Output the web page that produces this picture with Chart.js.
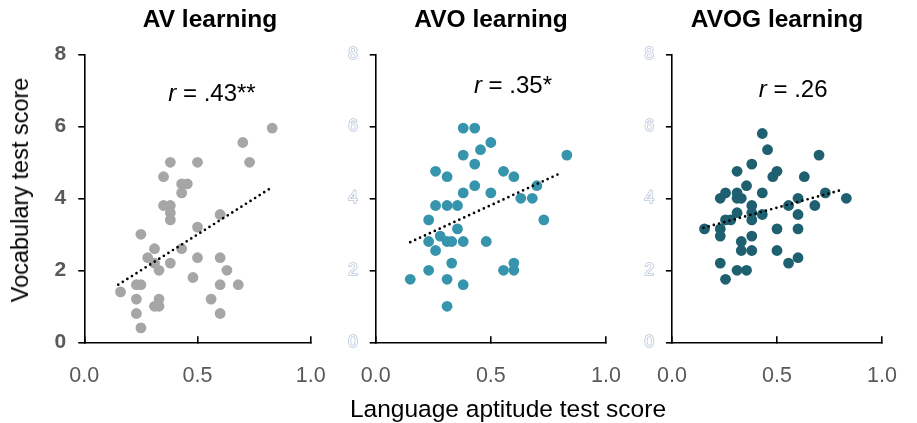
<!DOCTYPE html>
<html>
<head>
<meta charset="utf-8">
<script src="https://cdn.jsdelivr.net/npm/chart.js@4.4.1/dist/chart.umd.min.js"></script>
<style>
  html, body { margin: 0; padding: 0; background: #fff; overflow: hidden; }
  body { width: 917px; height: 423px; position: relative; font-family: 'Liberation Sans', Arial, sans-serif; }
  canvas { position: absolute; top: 0; }
  .lbl { position: absolute; line-height: 24px; color: #000; white-space: nowrap; }
  #xlabel { font-size: 24.5px; left: 508px; top: 397px; transform: translateX(-50%); }
  #ylabel { font-size: 23.5px; left: 20px; top: 190px; transform: translate(-50%, -50%) rotate(-90deg); }
</style>
</head>
<body>
<canvas id="c1" width="420" height="423" style="left:0px"></canvas>
<canvas id="c2" width="322" height="423" style="left:330px"></canvas>
<canvas id="c3" width="294" height="423" style="left:630px"></canvas>
<div class="lbl" id="xlabel">Language aptitude test score</div>
<div class="lbl" id="ylabel">Vocabulary test score</div>

<script>
// datos
const panelTitles = ['AV learning', 'AVO learning', 'AVOG learning'];
const rValues = ['.43**', '.35*', '.26'];
const xTicks = [0, 0.5, 1.0];
const yTicks = [0, 2, 4, 6, 8];

const avX = [0.16, 0.23, 0.25, 0.23, 0.23, 0.25, 0.25, 0.28, 0.31, 0.31, 0.33, 0.31, 0.33, 0.33, 0.35, 0.38, 0.35, 0.38, 0.38, 0.38,
             0.38, 0.43, 0.43, 0.455, 0.43, 0.48, 0.5, 0.5, 0.5, 0.56, 0.6, 0.6, 0.63, 0.6, 0.6, 0.68, 0.7, 0.73, 0.83];
const avY = [1.4, 1.6, 1.6, 1.2, 0.8, 0.4, 3.0, 2.35, 2.6, 2.2, 2.0, 1.0, 1.0, 1.2, 4.6, 5.0, 3.8, 3.8, 3.6, 3.4,
             2.2, 2.6, 4.4, 4.4, 4.15, 1.8, 5.0, 3.2, 2.35, 1.2, 3.55, 2.35, 2.0, 1.6, 0.8, 1.6, 5.55, 5.0, 5.95];
const avTrendX = [0.15, 0.82];
const avTrendY = [1.6, 4.27];

const avoX = [0.15, 0.23, 0.23, 0.23, 0.26, 0.26, 0.26, 0.28, 0.31, 0.31, 0.31, 0.33, 0.31, 0.31, 0.33, 0.355, 0.355, 0.38, 0.38, 0.38,
              0.38, 0.38, 0.43, 0.43, 0.43, 0.455, 0.48, 0.5, 0.5, 0.555, 0.555, 0.6, 0.6, 0.6, 0.63, 0.68, 0.7, 0.73, 0.83];
const avoY = [1.75, 2.0, 3.4, 2.8, 2.55, 4.75, 3.8, 2.95, 4.6, 3.8, 2.8, 2.8, 1.75, 1.0, 2.2, 3.8, 3.15, 5.95, 5.2, 4.15,
              2.8, 1.6, 5.95, 4.95, 4.35, 5.35, 2.8, 5.55, 4.15, 4.75, 2.0, 4.6, 2.2, 2.0, 4.0, 4.0, 4.35, 3.4, 5.2];
const avoTrendX = [0.15, 0.81];
const avoTrendY = [2.78, 4.72];

const avogX = [0.155, 0.23, 0.23, 0.23, 0.23, 0.255, 0.255, 0.255, 0.28, 0.31, 0.31, 0.31, 0.31, 0.31, 0.33, 0.33, 0.33, 0.355, 0.355,
               0.38, 0.38, 0.38, 0.38, 0.38, 0.38, 0.43, 0.43, 0.43, 0.455, 0.48, 0.5, 0.5, 0.5, 0.555, 0.555, 0.6, 0.6, 0.6, 0.6,
               0.63, 0.68, 0.7, 0.73, 0.83];
const avogY = [3.15, 4.0, 3.15, 2.95, 2.2, 4.15, 3.4, 1.75, 3.4, 4.75, 4.15, 4.0, 3.6, 2.0, 4.0, 2.8, 2.55, 4.35, 2.0,
               4.95, 3.8, 3.6, 3.4, 2.95, 2.55, 5.8, 4.15, 3.55, 5.35, 4.6, 4.75, 3.15, 2.55, 3.8, 2.2, 4.0, 3.55, 3.15, 2.35,
               4.6, 3.8, 5.2, 4.15, 4.0];
const avogTrendX = [0.15, 0.80];
const avogTrendY = [3.18, 4.22];

const FAM = "'Liberation Sans', Arial, sans-serif";
Chart.defaults.font.family = FAM;

function toPoints(xs, ys) {
    return xs.map((x, i) => ({ x: x, y: ys[i] }));
}

// plugin para el título del panel y el texto "r = ..."
const panelTextPlugin = {
    id: 'panelText',
    afterDatasetsDraw(chart, args, opts) {
        const ctx = chart.ctx;
        ctx.save();
        ctx.fillStyle = '#000';
        ctx.textBaseline = 'middle';

        // título
        ctx.font = 'bold 24.5px ' + FAM;
        ctx.textAlign = 'center';
        ctx.fillText(opts.title, opts.titleX, 20.5);

        // r = ...
        ctx.textAlign = 'left';
        const cx = chart.scales.x.getPixelForValue(opts.at[0]);
        const cy = chart.scales.y.getPixelForValue(opts.at[1]);
        ctx.font = 'italic 24px ' + FAM;
        const w1 = ctx.measureText('r').width;
        ctx.font = '24px ' + FAM;
        const rest = ' = ' + opts.text;
        const w2 = ctx.measureText(rest).width;
        const x = cx - (w1 + w2) / 2;
        ctx.font = 'italic 24px ' + FAM;
        ctx.fillText('r', x, cy);
        ctx.font = '24px ' + FAM;
        ctx.fillText(rest, x + w1, cy);
        ctx.restore();
    }
};

function makePanel(id, cfg) {
    const hollow = cfg.hollowTicks;
    return new Chart(document.getElementById(id), {
        type: 'scatter',
        data: {
            datasets: [
                {
                    type: 'line',
                    data: toPoints(cfg.trendX, cfg.trendY),
                    borderColor: '#000',
                    borderWidth: 2.7,
                    borderDash: [0, 5.4],
                    borderCapStyle: 'round',
                    pointRadius: 0,
                    fill: false
                },
                {
                    data: toPoints(cfg.xs, cfg.ys),
                    backgroundColor: cfg.color,
                    borderWidth: 0,
                    pointRadius: 5.4,
                    pointHoverRadius: 5.4
                }
            ]
        },
        options: {
            responsive: false,
            animation: false,
            events: [],
            layout: { padding: { left: 0, right: cfg.padRight, top: 54.3, bottom: 0 } },
            plugins: {
                legend: { display: false },
                tooltip: { enabled: false },
                title: { display: false },
                panelText: { title: cfg.title, titleX: cfg.titleX, text: cfg.r, at: cfg.rAt }
            },
            scales: {
                x: {
                    type: 'linear',
                    min: 0, max: 1,
                    afterBuildTicks: s => { s.ticks = xTicks.map(v => ({ value: v })); },
                    afterFit: s => { s.height = 423 - 342.3; },
                    border: { display: true, color: '#000', width: 1.6 },
                    grid: { drawOnChartArea: false, drawTicks: true, tickLength: -6, color: '#000', lineWidth: 1.6 },
                    ticks: {
                        color: '#595959',
                        font: { size: 21.5 },
                        padding: 27,
                        callback: v => v.toFixed(1)
                    }
                },
                y: {
                    type: 'linear',
                    min: 0, max: 8,
                    afterBuildTicks: s => { s.ticks = yTicks.map(v => ({ value: v })); },
                    afterFit: s => { s.width = cfg.yWidth; },
                    border: { display: true, color: '#000', width: 1.6 },
                    grid: { drawOnChartArea: false, drawTicks: true, tickLength: 6, color: '#000', lineWidth: 1.6 },
                    ticks: hollow ? {
                        color: '#ffffff',
                        textStrokeColor: '#b4c4da',
                        textStrokeWidth: 1.5,
                        font: { size: 17 },
                        padding: 12
                    } : {
                        color: '#595959',
                        font: { size: 21, weight: 'bold' },
                        padding: 12
                    }
                }
            }
        },
        plugins: [panelTextPlugin]
    });
}

makePanel('c1', {
    title: panelTitles[0], titleX: 210, r: rValues[0], rAt: [0.564, 6.9],
    xs: avX, ys: avY, trendX: avTrendX, trendY: avTrendY,
    color: '#a6a6a6', yWidth: 84.3, padRight: 420 - 310.7, hollowTicks: false
});
makePanel('c2', {
    title: panelTitles[1], titleX: 491 - 330, r: rValues[1], rAt: [0.596, 7.12],
    xs: avoX, ys: avoY, trendX: avoTrendX, trendY: avoTrendY,
    color: '#3794ad', yWidth: 375.7 - 330, padRight: 652 - 606, hollowTicks: true
});
makePanel('c3', {
    title: panelTitles[2], titleX: 777 - 630, r: rValues[2], rAt: [0.577, 7.0],
    xs: avogX, ys: avogY, trendX: avogTrendX, trendY: avogTrendY,
    color: '#1f6070', yWidth: 664.3 - 630, padRight: 924 - 894.3, hollowTicks: true
});
</script>
</body>
</html>
